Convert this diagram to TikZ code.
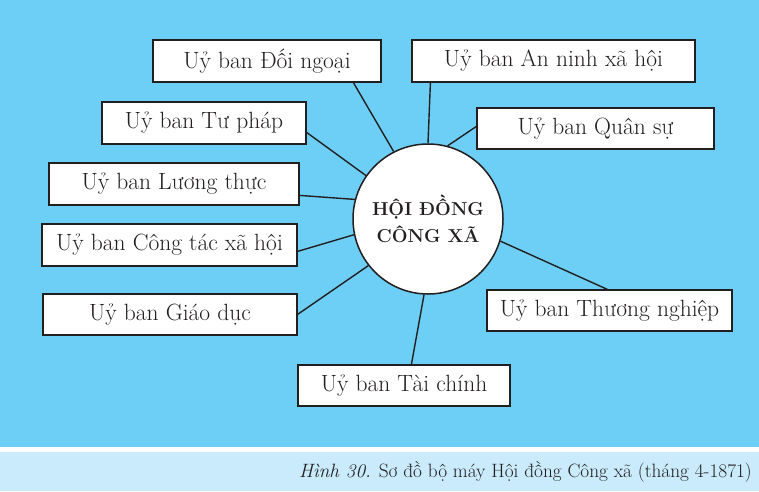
\documentclass[tikz,border=0pt]{standalone}
\usepackage{fontspec}
\definecolor{bgblue}{HTML}{6DCFF6}
\definecolor{capblue}{HTML}{C9EBFB}
\definecolor{ink}{HTML}{231F20}
\tikzset{
  ubox/.style={draw=ink, line width=1.2pt, fill=white, rectangle, inner sep=0pt,
    text=ink, font=\fontsize{23.5}{28}\selectfont},
  hub/.style={draw=ink, line width=1.5pt, fill=white, circle, minimum size=150pt,
    inner sep=0pt, text=ink, align=center, font=\bfseries\fontsize{18.7}{27}\selectfont},
  link/.style={draw=ink, line width=1.4pt}
}
\begin{document}
\begin{tikzpicture}[x=1pt,y=-1pt]
\useasboundingbox (0,0) rectangle (759,491);
\fill[bgblue] (0,0) rectangle (759,447);
\fill[white] (0,447) rectangle (759,452);
\fill[capblue] (0,452) rectangle (759,491);

\node[hub] (c) at (428,219) {HỘI ĐỒNG\\CÔNG XÃ};

\node[ubox, minimum width=228pt, minimum height=42pt] (dn) at (267,61) {Uỷ ban Đối ngoại};
\node[ubox, minimum width=283pt, minimum height=42pt] (an) at (553.5,61) {Uỷ ban An ninh xã hội};
\node[ubox, minimum width=204pt, minimum height=42pt] (tp) at (204,123) {Uỷ ban Tư pháp};
\node[ubox, minimum width=237pt, minimum height=41pt] (qs) at (595.5,128.5) {Uỷ ban Quân sự};
\node[ubox, minimum width=250pt, minimum height=42pt] (lt) at (174,184) {Uỷ ban Lương thực};
\node[ubox, minimum width=255pt, minimum height=42pt] (ct) at (169.5,245) {Uỷ ban Công tác xã hội};
\node[ubox, minimum width=254pt, minimum height=41pt] (gd) at (170,314.5) {Uỷ ban Giáo dục};
\node[ubox, minimum width=245pt, minimum height=41pt] (tn) at (609.5,310.5) {Uỷ ban Thương nghiệp};
\node[ubox, minimum width=212pt, minimum height=41pt] (tc) at (404,385.5) {Uỷ ban Tài chính};

\draw[link] ([xshift=201pt]dn.south west) -- (c.117.6);
\draw[link] ([xshift=19pt]an.south west) -- (c.90.8);
\draw[link] ([yshift=-19pt]qs.north west) -- (c.75.6);
\draw[link] ([yshift=-31pt]tp.north east) -- (c.145.7);
\draw[link] ([yshift=-33pt]lt.north east) -- (c.165.4);
\draw[link] ([yshift=-28pt]ct.north east) -- (c.192);
\draw[link] ([yshift=-21pt]gd.north east) -- (c.218.5);
\draw[link] ([xshift=114pt]tc.north west) -- (c.267.8);
\draw[link] ([xshift=121pt]tn.north west) -- (c.343.7);

\node[anchor=base east, inner sep=0pt, text=ink, font=\fontsize{19.3}{22}\selectfont] (cap) at (752,477)
  {\textit{Hình 30.} Sơ đồ bộ máy Hội đồng Công xã (tháng 4-1871)};
\end{tikzpicture}
\end{document}
